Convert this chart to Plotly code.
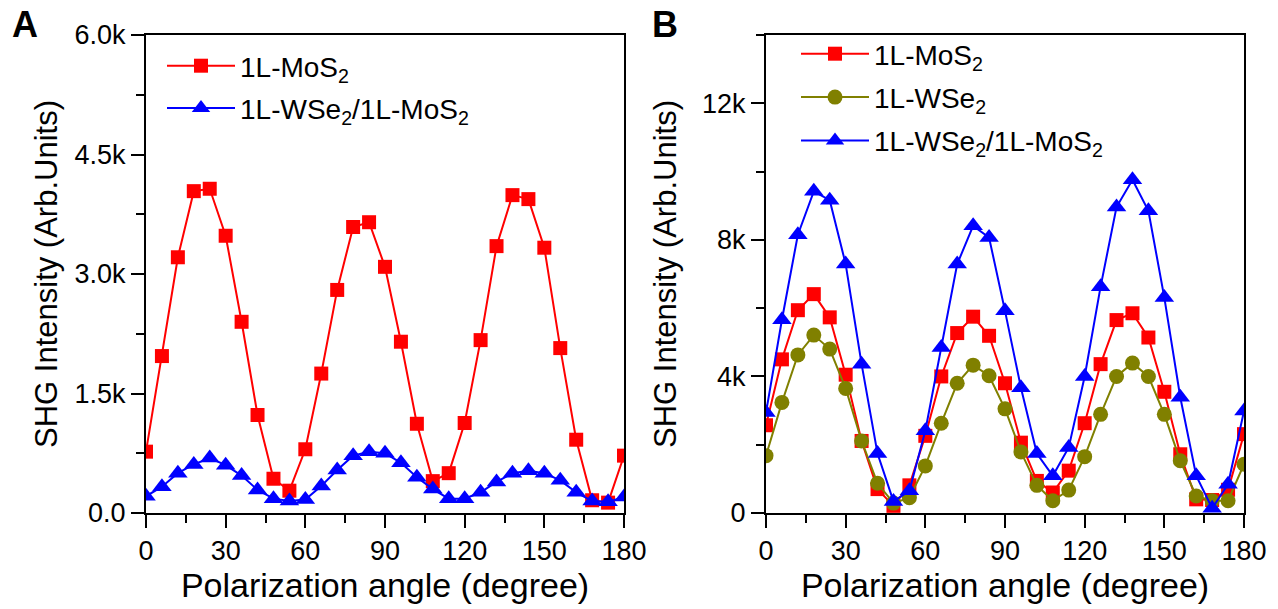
import plotly.graph_objects as go

# Polarization angle (degrees), sampled every 6 degrees
angle = list(range(0, 181, 6))

# Panel A: SHG intensity
a_mos2 = [770, 1970, 3210, 4040, 4070, 3480, 2400, 1230, 430, 280, 800, 1750, 2800, 3590, 3650, 3090,
          2150, 1120, 400, 500, 1130, 2170, 3350, 3990, 3940, 3330, 2070, 920, 160, 130, 720]
a_hetero = [210, 330, 500, 610, 690, 600, 470, 290, 180, 150, 170, 340, 540, 720, 770, 750,
            630, 450, 300, 180, 180, 260, 390, 500, 530, 500, 410, 260, 150, 140, 200]

# Panel B: SHG intensity
b_mos2 = [2570, 4500, 5940, 6410, 5730, 4050, 2110, 700, 210, 810, 2260, 4000, 5270, 5750, 5190, 3800,
          2060, 940, 600, 1240, 2630, 4360, 5650, 5850, 5140, 3550, 1720, 400, 380, 680, 2310]
b_wse2 = [1680, 3240, 4630, 5210, 4800, 3650, 2110, 870, 290, 450, 1380, 2630, 3800, 4330, 4020, 3050,
          1790, 810, 360, 670, 1650, 2890, 4000, 4390, 4000, 2890, 1530, 500, 360, 360, 1430]
b_hetero = [2940, 5660, 8150, 9420, 9160, 7290, 4360, 1740, 340, 650, 2410, 4850, 7290, 8410, 8070, 5920,
            3670, 1740, 1090, 1920, 4000, 6630, 8960, 9760, 8850, 6310, 3390, 1090, 140, 840, 2990]

# Tick labels
x_ticks = [0, 30, 60, 90, 120, 150, 180]
a_yticks = [0, 1500, 3000, 4500, 6000]
a_yticktext = ["0.0", "1.5k", "3.0k", "4.5k", "6.0k"]
b_yticks = [0, 4000, 8000, 12000]
b_yticktext = ["0", "4k", "8k", "12k"]

FONT = "Arial, Liberation Sans, sans-serif"
RED, OLIVE, BLUE = "#FF0000", "#808000", "#0000FF"

fig = go.Figure()


def add(x, y, name, color, symbol, size, xa, ya, legend, group):
    fig.add_trace(go.Scatter(
        x=x, y=y, name=name, mode="lines+markers",
        line=dict(color=color, width=2),
        marker=dict(color=color, symbol=symbol, size=size, line=dict(width=0)),
        xaxis=xa, yaxis=ya, legend=legend, legendgroup=group,
    ))


add(angle, a_mos2, "1L-MoS<sub>2</sub>", RED, "square", 14, "x", "y", "legend", "a1")
add(angle, a_hetero, "1L-WSe<sub>2</sub>/1L-MoS<sub>2</sub>", BLUE, "triangle-up", 17, "x", "y", "legend", "a2")
add(angle, b_mos2, "1L-MoS<sub>2</sub>", RED, "square", 14, "x2", "y2", "legend2", "b1")
add(angle, b_wse2, "1L-WSe<sub>2</sub>", OLIVE, "circle", 15, "x2", "y2", "legend2", "b2")
add(angle, b_hetero, "1L-WSe<sub>2</sub>/1L-MoS<sub>2</sub>", BLUE, "triangle-up", 17, "x2", "y2", "legend2", "b3")

W, H = 1278, 609
ML, MR, MT, MB = 146, 34, 35, 96
PW = W - ML - MR
PH = H - MT - MB


def px_x(v):
    return (v - ML) / PW


def px_y(v):
    return (H - MB - v) / PH


minor_style = dict(ticks="outside", ticklen=8, tickwidth=2, tickcolor="black", showgrid=False)

common_x = dict(
    range=[0, 180], tickvals=x_ticks, showline=True, mirror=True, linecolor="black", linewidth=2,
    ticks="outside", ticklen=13, tickwidth=2, tickcolor="black", showgrid=False, zeroline=False,
    tickfont=dict(family=FONT, size=27, color="black"),
    minor=dict(dtick=15, **minor_style),
    title=dict(text="Polarization angle (degree)", font=dict(family=FONT, size=34, color="black"), standoff=6),
)
common_y = dict(
    showline=True, mirror=True, linecolor="black", linewidth=2,
    ticks="outside", ticklen=13, tickwidth=2, tickcolor="black", showgrid=False, zeroline=False,
    tickfont=dict(family=FONT, size=27, color="black"),
)
y_title_font = dict(family=FONT, size=31, color="black")

legend_common = dict(
    bgcolor="rgba(0,0,0,0)", borderwidth=0, font=dict(family=FONT, size=28, color="black"),
    xanchor="left", yanchor="top", itemwidth=68, xref="paper", yref="paper",
)

fig.update_layout(
    width=W, height=H, paper_bgcolor="white", plot_bgcolor="white",
    margin=dict(l=ML, r=MR, t=MT, b=MB),
    xaxis=dict(domain=[0, px_x(624)], anchor="y", **common_x),
    yaxis=dict(domain=[0, 1], anchor="x", range=[0, 6000], tickvals=a_yticks, ticktext=a_yticktext,
               minor=dict(dtick=750, **minor_style),
               title=dict(text="SHG Intensity (Arb.Units)", font=y_title_font, standoff=8),
               **common_y),
    xaxis2=dict(domain=[px_x(766), 1], anchor="y2", **common_x),
    yaxis2=dict(domain=[0, 1], anchor="x2", range=[0, 14000], tickvals=b_yticks, ticktext=b_yticktext,
                minor=dict(dtick=2000, **minor_style),
                title=dict(text="SHG Intensity (Arb.Units)", font=y_title_font, standoff=16),
                **common_y),
    legend=dict(x=px_x(162), y=px_y(41), tracegroupgap=3, **legend_common),
    legend2=dict(x=px_x(796), y=px_y(29), tracegroupgap=4, **legend_common),
    annotations=[
        dict(text="<b>A</b>", x=px_x(10), y=px_y(2), xref="paper", yref="paper", showarrow=False,
             xanchor="left", yanchor="top", font=dict(family=FONT, size=36, color="black")),
        dict(text="<b>B</b>", x=px_x(650), y=px_y(2), xref="paper", yref="paper", showarrow=False,
             xanchor="left", yanchor="top", font=dict(family=FONT, size=36, color="black")),
    ],
)

fig.write_html("out.html")
